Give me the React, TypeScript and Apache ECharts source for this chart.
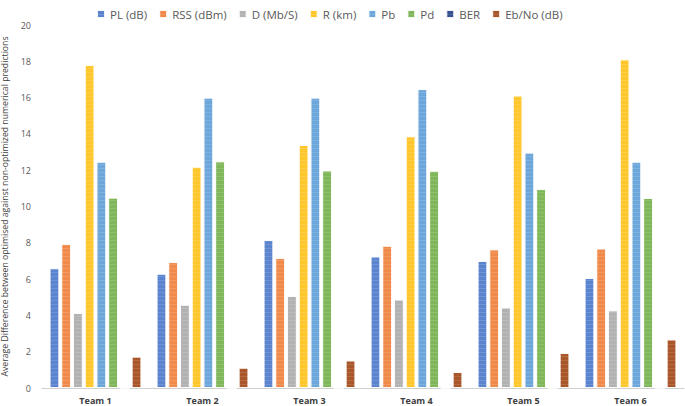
import React, { useEffect, useRef } from "react";
import * as echarts from "echarts";

const categories = ["Team 1", "Team 2", "Team 3", "Team 4", "Team 5", "Team 6"];
const seriesNames = ["PL (dB)", "RSS (dBm)", "D (Mb/S)", "R (km)", "Pb", "Pd", "BER", "Eb/No (dB)"];
const plValues = [6.6, 6.3, 8.15, 7.25, 7.0, 6.06];
const rssValues = [7.93, 6.94, 7.16, 7.84, 7.64, 7.69];
const dValues = [4.13, 4.59, 5.07, 4.88, 4.44, 4.28];
const rValues = [17.8, 12.19, 13.39, 13.87, 16.12, 18.11];
const pbValues = [12.47, 16.0, 16.0, 16.47, 12.97, 12.47];
const pdValues = [10.49, 12.49, 11.99, 11.97, 10.96, 10.47];
const berValues = [0, 0, 0, 0, 0, 0];
const ebNoValues = [1.73, 1.12, 1.52, 0.88, 1.93, 2.68];
const yTicks = [0, 2, 4, 6, 8, 10, 12, 14, 16, 18, 20];

const colors = ["#5B84CF", "#F08A4B", "#B2B2B2", "#FFC72C", "#6DA6DA", "#80B75A", "#355090", "#A9562A"];

export default function App() {
  const ref = useRef<HTMLDivElement>(null);
  useEffect(() => {
    if (!ref.current) return;
    const chart = echarts.init(ref.current, null, { renderer: "svg" });
    const all = [plValues, rssValues, dValues, rValues, pbValues, pdValues, berValues, ebNoValues];
    const font = "'Open Sans', 'Noto Sans', sans-serif";
    chart.setOption({
      animation: false,
      color: colors,
      textStyle: { fontFamily: font },
      legend: {
        data: seriesNames,
        top: 3,
        left: 91,
        itemWidth: 8,
        itemHeight: 8,
        itemGap: 11,
        icon: "rect",
        textStyle: { fontSize: 11.5, color: "#595959", fontFamily: font },
      },
      grid: { left: 42, right: 1, top: 25, bottom: 18, containLabel: false, outerBoundsMode: "none" },
      xAxis: {
        type: "category",
        data: categories,
        axisLine: { lineStyle: { color: "#D0D0D0" } },
        axisTick: { show: false },
        axisLabel: { fontSize: 9, fontWeight: "bold", color: "#404040", margin: 8, fontFamily: font },
      },
      yAxis: {
        type: "value",
        min: yTicks[0],
        max: yTicks[yTicks.length - 1],
        interval: 2,
        splitLine: { show: false },
        axisLine: { show: false },
        axisTick: { show: false },
        axisLabel: { fontSize: 9, color: "#595959", margin: 11, fontFamily: font },
        name: "Average Difference between optimised against non-optimized numerical predictions",
        nameLocation: "middle",
        nameGap: 27,
        nameTextStyle: { fontSize: 8.7, color: "#404040", fontFamily: font },
      },
      series: seriesNames.map((name, i) => ({
        name,
        type: "bar",
        data: all[i],
        barGap: "18%",
        barCategoryGap: "14%",
        itemStyle: {
          color: colors[i],
          borderColor: "rgba(255,255,255,0.7)",
          borderWidth: 1,
          decal: {
            symbol: "rect",
            dashArrayX: [1, 0],
            dashArrayY: [1, 3],
            rotation: 0,
            color: "rgba(255,255,255,0.12)",
          },
        },
      })),
    });
    return () => chart.dispose();
  }, []);
  return (
    <div
      ref={ref}
      style={{ position: "absolute", left: 0, top: 0, width: 685, height: 406 }}
    />
  );
}
